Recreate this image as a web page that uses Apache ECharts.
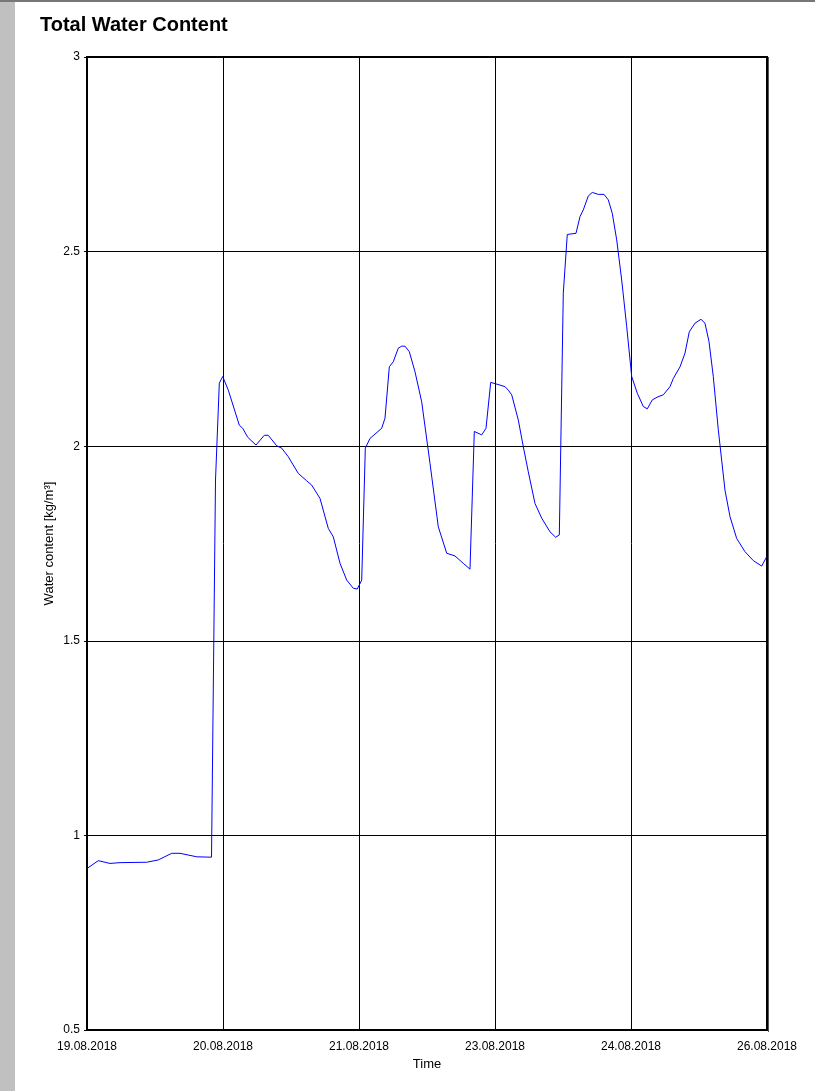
<!DOCTYPE html>
<html>
<head>
<meta charset="utf-8">
<script src="https://cdn.jsdelivr.net/npm/echarts@6/dist/echarts.min.js"></script>
<style>
html,body{margin:0;padding:0;background:#fff;}
#chart{width:815px;height:1091px;}
</style>
</head>
<body>
<div id="chart"></div>
<script>
// Time in hours since 19.08.2018 00:00
const timeHours = [0, 2.79, 5.68, 8.15, 14.75, 17.62, 20.93, 22.98, 27.10, 30.76,
  31.75, 32.69, 33.53, 34.91, 37.63, 38.47, 39.70, 41.75, 43.80, 44.79,
  46.87, 48.10, 49.73, 52.20, 54.28, 55.51, 57.56, 59.61, 60.85, 62.51,
  64.16, 65.79, 66.78, 67.87, 68.76, 69.92, 72.81, 73.62, 74.69, 75.67,
  76.91, 77.75, 78.56, 79.63, 81.04, 82.69, 84.74, 86.79, 88.87, 90.92,
  92.97, 94.62, 95.69, 97.51, 98.58, 99.74, 102.04, 103.27, 104.09, 104.93,
  106.56, 107.79, 109.03, 110.68, 112.34, 114.39, 115.80, 116.69, 117.67, 118.66,
  120.81, 121.80, 122.61, 123.85, 124.84, 126.32, 127.73, 128.79, 129.78, 130.87,
  132.10, 133.34, 134.57, 135.96, 137.44, 138.43, 139.66, 141.07, 142.38, 144.04,
  144.85, 146.51, 147.74, 148.80, 150.21, 151.69, 152.68, 153.67, 154.73, 155.97,
  157.62, 158.86, 160.51, 162.56, 164.62, 166.69, 167.92];
const waterContent = [0.915, 0.935, 0.928, 0.930, 0.931, 0.937, 0.954, 0.954, 0.945, 0.944,
  1.913, 2.162, 2.179, 2.144, 2.054, 2.046, 2.023, 2.003, 2.028, 2.028,
  2.001, 1.995, 1.973, 1.930, 1.911, 1.900, 1.866, 1.789, 1.767, 1.699,
  1.656, 1.635, 1.633, 1.656, 1.995, 2.020, 2.046, 2.072, 2.204, 2.217,
  2.252, 2.257, 2.257, 2.243, 2.191, 2.114, 1.956, 1.793, 1.725, 1.718,
  1.699, 1.684, 2.038, 2.029, 2.046, 2.164, 2.157, 2.153, 2.144, 2.132,
  2.067, 1.999, 1.934, 1.853, 1.815, 1.780, 1.766, 1.772, 2.393, 2.544,
  2.547, 2.590, 2.607, 2.643, 2.652, 2.647, 2.647, 2.633, 2.598, 2.530,
  2.427, 2.307, 2.179, 2.136, 2.102, 2.096, 2.119, 2.127, 2.132, 2.153,
  2.174, 2.204, 2.239, 2.294, 2.316, 2.326, 2.316, 2.269, 2.179, 2.042,
  1.887, 1.819, 1.763, 1.729, 1.706, 1.692, 1.716];
const xTickLabels = ['19.08.2018', '20.08.2018', '21.08.2018', '23.08.2018', '24.08.2018', '26.08.2018'];
const xTickStep = 33.6;
const yTickLabels = ['0.5', '1', '1.5', '2', '2.5', '3'];

const font = 'Liberation Sans, Arial, sans-serif';
const chart = echarts.init(document.getElementById('chart'), null, {renderer: 'canvas'});
chart.setOption({
  animation: false,
  backgroundColor: '#ffffff',
  graphic: [
    {type: 'rect', left: 0, top: 0, shape: {width: 15, height: 1091}, style: {fill: '#c0c0c0'}, z: 0},
    {type: 'rect', left: 0, top: 0, shape: {width: 815, height: 2}, style: {fill: '#777777'}, z: 0},
    {type: 'rect', left: 768, top: 57, shape: {width: 1, height: 975}, style: {fill: '#555555'}, z: 10}
  ],
  title: {
    text: 'Total Water Content',
    left: 35, top: 10,
    textStyle: {fontFamily: font, fontSize: 20, fontWeight: 'bold', color: '#000'}
  },
  grid: {
    left: 87, top: 57, right: 48, bottom: 61,
    show: true, borderColor: '#000', borderWidth: 2, backgroundColor: 'transparent'
  },
  xAxis: {
    type: 'value', min: 0, max: 168, interval: xTickStep,
    name: 'Time', nameLocation: 'middle', nameGap: 27,
    nameTextStyle: {fontFamily: font, fontSize: 13, color: '#000'},
    axisLine: {show: true, lineStyle: {color: '#000', width: 2}},
    axisTick: {show: false},
    axisLabel: {
      fontFamily: font, fontSize: 12, color: '#000', margin: 11,
      showMinLabel: true, showMaxLabel: true,
      formatter: function (v) { return xTickLabels[Math.round(v / xTickStep)] || ''; }
    },
    splitLine: {show: true, lineStyle: {color: '#000', width: 1}}
  },
  yAxis: {
    type: 'value', min: 0.5, max: 3, interval: 0.5,
    name: 'Water content [kg/m³]', nameLocation: 'middle', nameGap: 31, nameRotate: 90,
    nameMoveOverlap: false,
    nameTextStyle: {fontFamily: font, fontSize: 13, color: '#000'},
    axisLine: {show: true, lineStyle: {color: '#000', width: 2}},
    axisTick: {show: true, length: 3, lineStyle: {color: '#000'}},
    axisLabel: {
      fontFamily: font, fontSize: 12, color: '#000', margin: 7,
      formatter: function (v) { return yTickLabels[Math.round((v - 0.5) / 0.5)] || ''; }
    },
    splitLine: {show: true, lineStyle: {color: '#000', width: 1}}
  },
  series: [{
    type: 'line',
    data: timeHours.map((t, i) => [t, waterContent[i]]),
    showSymbol: false, symbol: 'none',
    lineStyle: {color: '#0000ff', width: 1},
    clip: true
  }]
});
</script>
</body>
</html>
